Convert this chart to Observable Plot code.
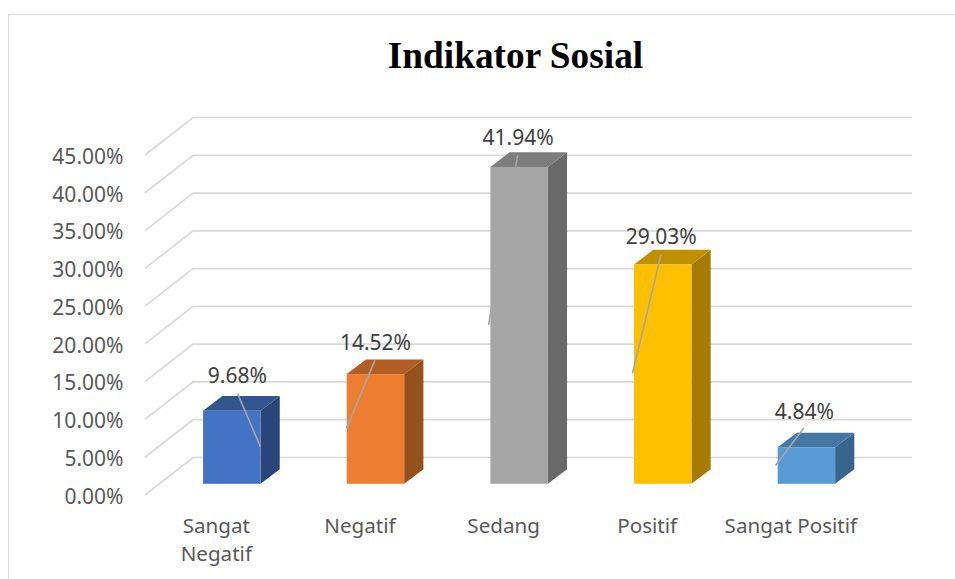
<!DOCTYPE html>
<html>
<head>
<meta charset="utf-8">
<script src="https://cdn.jsdelivr.net/npm/d3@7"></script>
<script src="https://cdn.jsdelivr.net/npm/@observablehq/plot@0.6"></script>
<style>
  html, body { margin: 0; padding: 0; background: #fff; overflow: hidden; width: 955px; height: 579px; }
  #frame { position: absolute; left: 8px; top: 14px; width: 970px; height: 590px; box-sizing: border-box; border: 1.3px solid #dadada; }
  #title { position: absolute; left: 0; top: 33px; width: 1031px; height: 46px; text-align: center;
           font: bold 37.3px/46px "Liberation Serif", serif; color: #000; }
  #chart { position: absolute; left: 0; top: 80px; }
  #chart svg { display: block; }
</style>
</head>
<body>
<div id="frame"></div>
<div id="title">Indikator Sosial</div>
<div id="chart"></div>
<script>
const categories = ["Sangat Negatif", "Negatif", "Sedang", "Positif", "Sangat Positif"];
const values = [0.0968, 0.1452, 0.4194, 0.2903, 0.0484];
const valueLabels = ["9.68%", "14.52%", "41.94%", "29.03%", "4.84%"];
const yTicks = [0, 0.05, 0.1, 0.15, 0.2, 0.25, 0.3, 0.35, 0.4, 0.45];
const frontColors = ["#4472c4", "#ed7d31", "#a5a5a5", "#ffc000", "#5b9bd5"];
const sideColors = ["#2a4678", "#95501c", "#696969", "#a67c00", "#38658c"];
const topColors = ["#32548f", "#b25d24", "#7c7c7c", "#bf9000", "#4577a5"];

// Styling offsets in pixels, relative to each bar's centre and front top
const labelNudge = [[5, -34.8], [-0.5, -31.3], [-1.5, -29.3], [-2, -27.3], [-2.5, -35.3]];
const leaderNudge = [
  [5.8, -17, 28.6, 36], [-0.5, -14, -28.8, 54], [-1.5, -11.7, -30.5, 158],
  [-1.7, -10, -30.3, 109], [-2.5, -19.3, -30.8, 18]
];
const rows = categories.map((category, i) => ({category, value: values[i], label: valueLabels[i]}));

const FONT = '"Noto Sans", sans-serif';
const BAR_LIFT = 11.2;            // floor position of bars above the axis plane
const DEPTH = [19.2, -14.6];      // bar depth
const WALL = [48, -37.5];         // wall depth
const WALL_LEFT = 145;
const WALL_RIGHT = 912;

function wallGrid(index, {y}) {
  const g = d3.create("svg:g").attr("fill", "none").attr("stroke", "#d9d9d9").attr("stroke-width", 1.7);
  for (const t of yTicks) {
    const p = y(t);
    g.append("path").attr("d", `M${WALL_LEFT},${p}L${WALL_LEFT + WALL[0]},${p + WALL[1]}H${WALL_RIGHT}`);
  }
  return g.node();
}

function barDepth(index, {x, y}) {
  const g = d3.create("svg:g");
  const w = x.bandwidth();
  rows.forEach((d, i) => {
    const x0 = x(d.category), x1 = x0 + w;
    const yb = y(0) - BAR_LIFT, yt = y(d.value) - BAR_LIFT;
    const [dx, dy] = DEPTH;
    g.append("path").attr("fill", sideColors[i])
      .attr("d", `M${x1},${yt}L${x1 + dx},${yt + dy}V${yb + dy}L${x1},${yb}Z`);
    g.append("path").attr("fill", topColors[i])
      .attr("d", `M${x0},${yt}L${x0 + dx},${yt + dy}H${x1 + dx}L${x1},${yt}Z`);
  });
  return g.node();
}

const leaders = (which) => (index, {x, y}) => {
  const g = d3.create("svg:g").attr("stroke", "#a6a6a6").attr("stroke-width", 1.6).attr("fill", "none");
  const w = x.bandwidth();
  rows.forEach((d, i) => {
    if (!which(i)) return;
    const cx = x(d.category) + w / 2, yt = y(d.value) - BAR_LIFT;
    const [a, b, c, e] = leaderNudge[i];
    g.append("line").attr("x1", cx + a).attr("y1", yt + b).attr("x2", cx + c).attr("y2", yt + e);
  });
  return g.node();
};

const hiddenLeader = 2;

const plot = Plot.plot({
  width: 955,
  height: 499,
  marginLeft: 123,
  marginRight: 0,
  marginTop: 0,
  marginBottom: 84,
  style: {background: "transparent", fontFamily: FONT, fontSize: "21px", color: "#595959"},
  x: {type: "band", domain: categories, range: [116.9, 921.3], padding: 0.6, align: 0.5, round: false, label: null},
  y: {domain: [0, 0.45], range: [415, 75], label: null},
  color: {type: "ordinal", domain: categories, range: frontColors},
  marks: [
    wallGrid,
    barDepth,
    leaders(i => i === hiddenLeader),
    Plot.barY(rows, {x: "category", y: "value", fill: "category", dy: -BAR_LIFT}),
    leaders(i => i !== hiddenLeader),
    Plot.axisY({
      ticks: yTicks, tickFormat: d3.format(".2%"), tickSize: 0, tickPadding: 0, label: null, dy: 1.5,
      fontSize: 21, fontFamily: FONT, fill: "#595959"
    }),
    Plot.axisX({
      tickSize: 0, tickPadding: 18, label: null, dx: -16, lineHeight: 1.36, fontSize: 20.6, fontFamily: FONT, fill: "#595959",
      tickFormat: d => d === "Sangat Negatif" ? "Sangat\nNegatif" : d,
      textOverflow: null
    }),
    ...rows.map((d, i) => Plot.text([d], {
      x: "category", y: "value", text: "label",
      dx: labelNudge[i][0], dy: labelNudge[i][1] - BAR_LIFT,
      fontSize: 21, fontFamily: FONT, fill: "#404040"
    }))
  ]
});
document.getElementById("chart").append(plot);
</script>
</body>
</html>
